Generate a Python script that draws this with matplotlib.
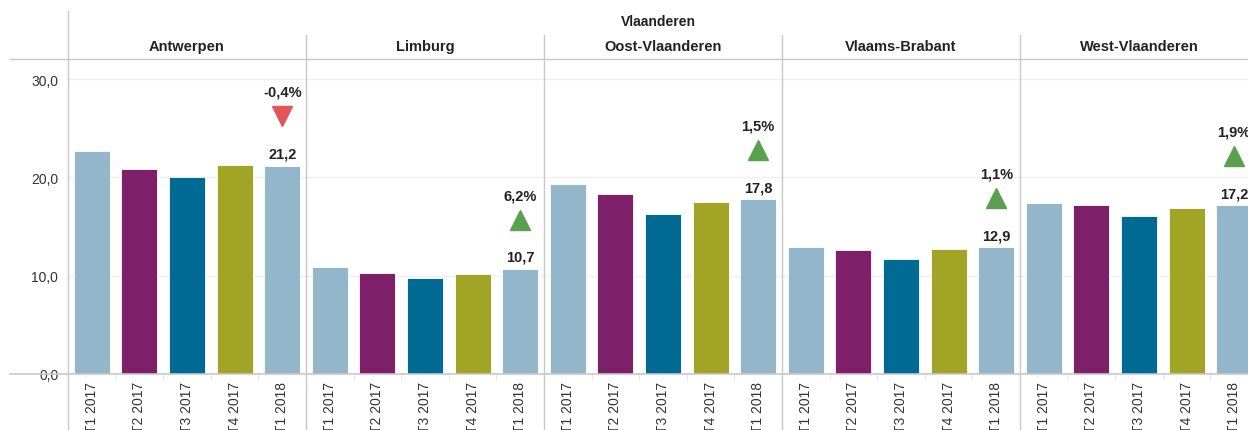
import numpy as np
import matplotlib.pyplot as plt
from matplotlib.lines import Line2D

plt.rcParams['font.family'] = ['Liberation Sans', 'DejaVu Sans']

provinces = ['Antwerpen', 'Limburg', 'Oost-Vlaanderen', 'Vlaams-Brabant', 'West-Vlaanderen']
quarters = ['T1 2017', 'T2 2017', 'T3 2017', 'T4 2017', 'T1 2018']
values = [
    [22.7, 20.9, 20.0, 21.3, 21.2],
    [10.9, 10.3, 9.8, 10.2, 10.7],
    [19.3, 18.3, 16.3, 17.5, 17.8],
    [12.9, 12.6, 11.7, 12.7, 12.9],
    [17.4, 17.2, 16.1, 16.9, 17.2],
]
changes = [-0.4, 6.2, 1.5, 1.1, 1.9]
bar_colors = ['#93B6CB', '#7E1F69', '#006A94', '#A2A425', '#93B6CB']
yticks = [0, 10, 20, 30]

W, H = 1248, 431
fig = plt.figure(figsize=(W / 100, H / 100), dpi=100)

def fx(px):
    return px / W

def fy(py):
    return 1 - py / H

x0, pw = 68, 238
top, base = 60, 375
grey = '#c8c8c8'

axes = []
for i, prov in enumerate(provinces):
    left = x0 + i * pw
    ax = fig.add_axes([fx(left), fy(base), fx(pw), fy(top) - fy(base)])
    axes.append(ax)
    x = np.arange(len(quarters))
    ax.bar(x, values[i], width=0.76, color=bar_colors, edgecolor='white', linewidth=0.6, zorder=2)
    ax.set_xlim(-0.5, len(quarters) - 0.5)
    ax.set_ylim(0, 32.05)
    ax.set_yticks(yticks)
    ax.grid(axis='y', color='#efefef', linewidth=0.9, zorder=0)
    ax.set_axisbelow(True)
    ax.set_xticks(x)
    ax.set_xticklabels(quarters, rotation=90, fontsize=10, color='#333333')
    ax.set_xticks(np.arange(0.5, len(quarters) - 1, 1.0), minor=True)
    ax.tick_params(axis='x', which='major', length=0, pad=5)
    ax.tick_params(axis='x', which='minor', length=4, color='#e6e6e6', width=0.8)
    for s in ['top', 'right', 'bottom', 'left']:
        ax.spines[s].set_visible(False)
    if i == 0:
        ax.set_yticklabels([f'{t:.1f}'.replace('.', ',') for t in yticks], fontsize=10, color='#333333')
        ax.tick_params(axis='y', length=0, pad=7)
    else:
        ax.tick_params(axis='y', length=0, labelleft=False)

    last = values[i][-1]
    ax.text(4, last + 0.5, f'{last:.1f}'.replace('.', ','), ha='center', va='bottom',
            fontsize=10.5, fontweight='bold', color='#222222')
    ch = changes[i]
    marker = 'v' if ch < 0 else '^'
    mcol = '#E15759' if ch < 0 else '#59A14F'
    ax.plot([4], [last + 5.0], marker=marker, color=mcol, markersize=15, linestyle='none', clip_on=False)
    ax.text(4, last + 6.8, f'{ch:.1f}%'.replace('.', ','), ha='center', va='bottom',
            fontsize=10.5, fontweight='bold', color='#222222')

    fig.text(fx(left + pw / 2), fy(47), prov, ha='center', va='center',
             fontsize=10.5, fontweight='bold', color='#222222')

fig.text(fx((x0 + W) / 2), fy(22), 'Vlaanderen', ha='center', va='center',
         fontsize=10, fontweight='bold', color='#222222')

# frame lines
fig.add_artist(Line2D([fx(x0), fx(x0)], [fy(12), 0], color=grey, linewidth=1))
for i in range(1, len(provinces)):
    xl = fx(x0 + i * pw)
    fig.add_artist(Line2D([xl, xl], [fy(36), 0], color=grey, linewidth=1))
fig.add_artist(Line2D([fx(10), 1], [fy(top), fy(top)], color=grey, linewidth=1))
fig.add_artist(Line2D([fx(10), 1], [fy(base), fy(base)], color=grey, linewidth=1.2))

fig.savefig('out.png', dpi=100)
